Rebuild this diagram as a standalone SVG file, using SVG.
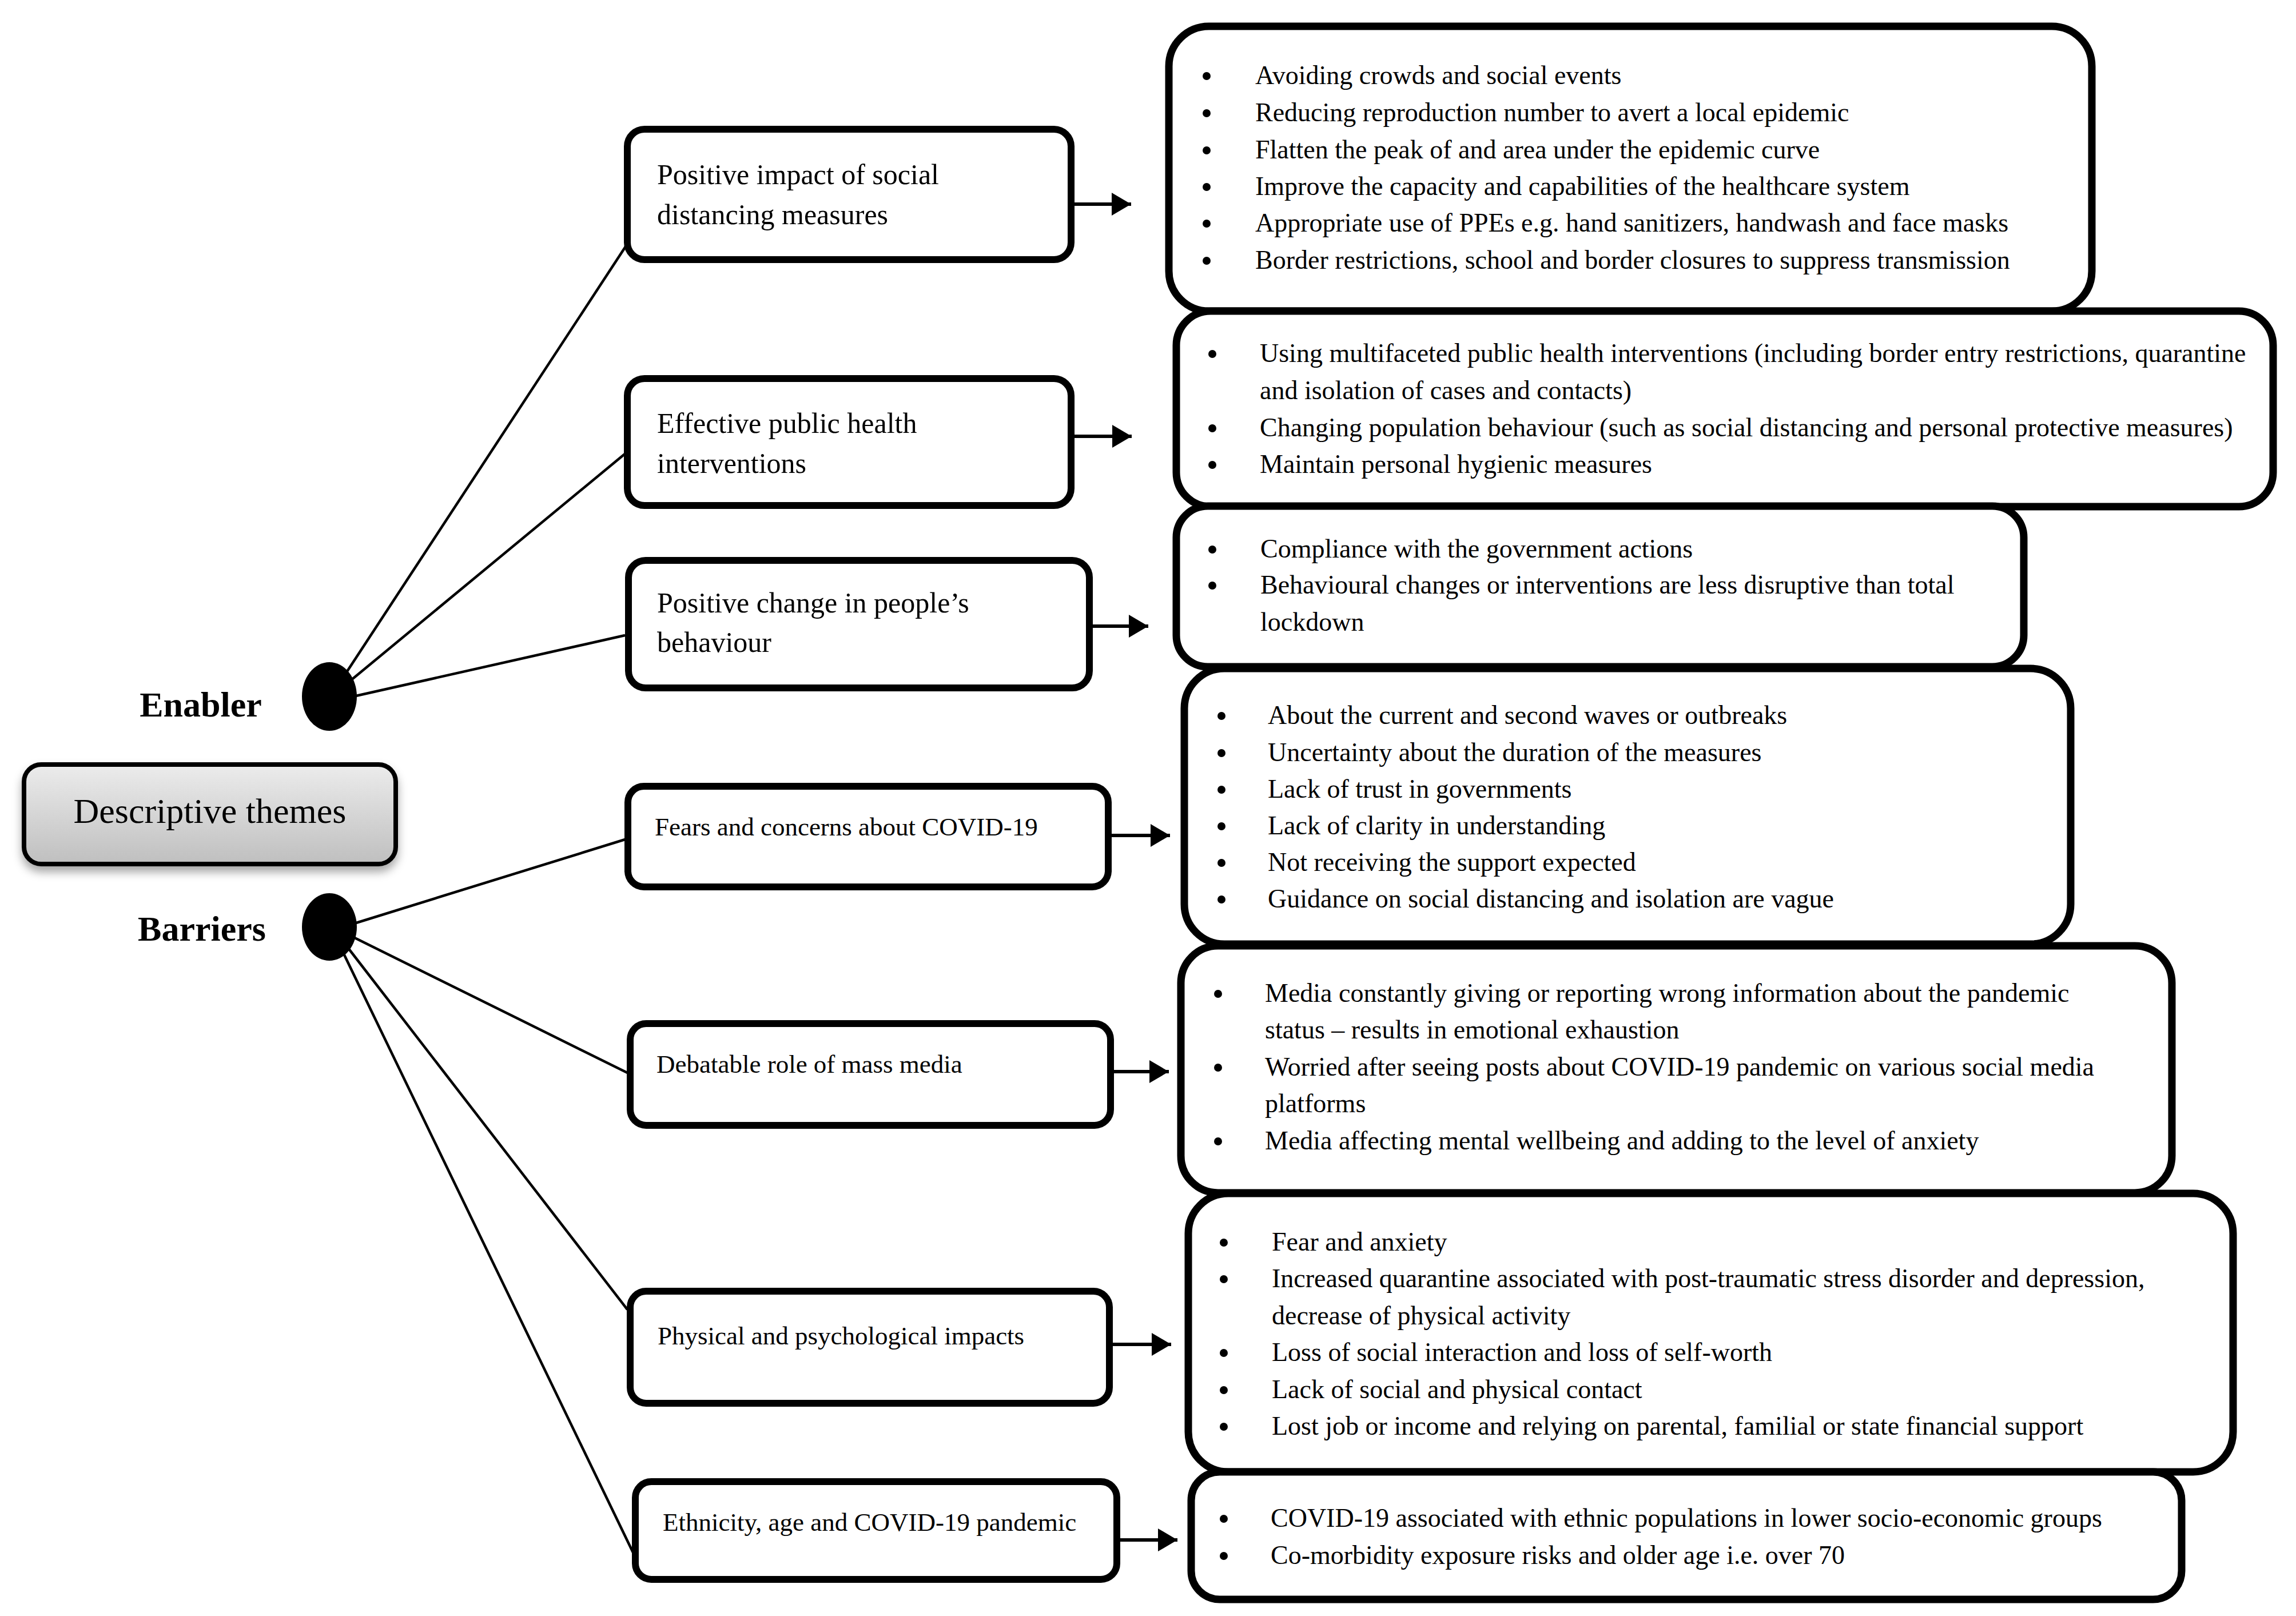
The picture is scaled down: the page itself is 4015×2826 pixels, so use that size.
<svg xmlns="http://www.w3.org/2000/svg" width="4015" height="2826" viewBox="0 0 4015 2826">
<defs>
<style>
.box{fill:#fff;stroke:#000;stroke-width:12}
.rbox{fill:#fff;stroke:#000;stroke-width:13}
.t{font-family:"Liberation Serif","Times New Roman",serif;fill:#000}
.lt{font-size:50px}
.bt{font-size:45px}
.rt{font-size:46px}
.hd{font-size:62px;font-weight:bold}
.conn{stroke:#000;stroke-width:4.5;fill:none}
.arr{stroke:#000;stroke-width:6;fill:none;marker-end:url(#ah)}
.bul{fill:#000}
.dot{fill:#000}
</style>
<marker id="ah" markerUnits="userSpaceOnUse" markerWidth="34" markerHeight="40" refX="34" refY="20" orient="auto">
<path d="M0,0 L34,20 L0,40 Z" fill="#000"/>
</marker>
<linearGradient id="g" x1="0" y1="0" x2="0" y2="1">
<stop offset="0" stop-color="#ececec"/>
<stop offset="1" stop-color="#bfbfbf"/>
</linearGradient>
<filter id="sh" x="-10%" y="-20%" width="120%" height="150%">
<feDropShadow dx="0" dy="10" stdDeviation="8" flood-color="#000" flood-opacity="0.35"/>
</filter>
</defs>
<rect width="4015" height="2826" fill="#fff"/>

<g id="connectors">
<line class="conn" x1="590" y1="1200" x2="1096" y2="428"/>
<line class="conn" x1="595" y1="1205" x2="1096" y2="791"/>
<line class="conn" x1="600" y1="1222" x2="1093" y2="1111"/>
<line class="conn" x1="600" y1="1621" x2="1093" y2="1468"/>
<line class="conn" x1="600" y1="1630" x2="1097" y2="1876"/>
<line class="conn" x1="595" y1="1640" x2="1097" y2="2290"/>
<line class="conn" x1="590" y1="1645" x2="1107" y2="2715"/>
<line class="arr" x1="1879" y1="357" x2="1978" y2="357"/>
<line class="arr" x1="1877" y1="763" x2="1979" y2="763"/>
<line class="arr" x1="1911" y1="1095" x2="2008" y2="1095"/>
<line class="arr" x1="1944" y1="1461" x2="2046" y2="1461"/>
<line class="arr" x1="1948" y1="1874" x2="2044" y2="1874"/>
<line class="arr" x1="1946" y1="2351" x2="2048" y2="2351"/>
<line class="arr" x1="1959" y1="2693" x2="2059" y2="2693"/>
</g>

<g id="descriptive-themes">
<rect x="42" y="1337" width="650" height="174" rx="30" fill="url(#g)" stroke="#000" stroke-width="8" filter="url(#sh)"/>
<text class="t" x="367" y="1439" font-size="62" text-anchor="middle">Descriptive themes</text>
</g>

<g id="enabler">
<ellipse class="dot" cx="576" cy="1218" rx="48" ry="60"/>
<text class="t hd" x="351" y="1253" text-anchor="middle">Enabler</text>
</g>

<g id="barriers">
<ellipse class="dot" cx="576" cy="1621" rx="48" ry="59"/>
<text class="t hd" x="353" y="1645" text-anchor="middle">Barriers</text>
</g>

<g id="theme-social-distancing">
<rect class="box" x="1097" y="226" width="776" height="228" rx="30"/>
<text class="t lt" x="1149" y="322">Positive impact of social</text>
<text class="t lt" x="1149" y="392">distancing measures</text>
</g>

<g id="theme-public-health">
<rect class="box" x="1097" y="662" width="776" height="222" rx="30"/>
<text class="t lt" x="1149" y="757">Effective public health</text>
<text class="t lt" x="1149" y="827">interventions</text>
</g>

<g id="theme-behaviour">
<rect class="box" x="1099" y="980" width="806" height="223" rx="30"/>
<text class="t lt" x="1149" y="1071">Positive change in people’s</text>
<text class="t lt" x="1149" y="1140">behaviour</text>
</g>

<g id="theme-fears">
<rect class="box" x="1098" y="1375" width="840" height="176" rx="28"/>
<text class="t bt" x="1145" y="1461">Fears and concerns about COVID-19</text>
</g>

<g id="theme-media">
<rect class="box" x="1102" y="1790" width="840" height="178" rx="28"/>
<text class="t bt" x="1148" y="1876">Debatable role of mass media</text>
</g>

<g id="theme-impacts">
<rect class="box" x="1102" y="2258" width="838" height="196" rx="28"/>
<text class="t bt" x="1150" y="2351">Physical and psychological impacts</text>
</g>

<g id="theme-ethnicity">
<rect class="box" x="1111" y="2591" width="842" height="171" rx="28"/>
<text class="t bt" x="1159" y="2677">Ethnicity, age and COVID-19 pandemic</text>
</g>

<g id="detail-social-distancing">
<rect class="rbox" x="2044" y="46" width="1614" height="498" rx="70"/>
<circle class="bul" cx="2110" cy="133" r="7"/>
<circle class="bul" cx="2110" cy="198" r="7"/>
<circle class="bul" cx="2110" cy="263" r="7"/>
<circle class="bul" cx="2110" cy="327" r="7"/>
<circle class="bul" cx="2110" cy="391" r="7"/>
<circle class="bul" cx="2110" cy="456" r="7"/>
<text class="t rt" x="2195" y="147">Avoiding crowds and social events</text>
<text class="t rt" x="2195" y="212">Reducing reproduction number to avert a local epidemic</text>
<text class="t rt" x="2195" y="277">Flatten the peak of and area under the epidemic curve</text>
<text class="t rt" x="2195" y="341">Improve the capacity and capabilities of the healthcare system</text>
<text class="t rt" x="2195" y="405">Appropriate use of PPEs e.g. hand sanitizers, handwash and face masks</text>
<text class="t rt" x="2195" y="470">Border restrictions, school and border closures to suppress transmission</text>
</g>

<g id="detail-public-health">
<rect class="rbox" x="2057" y="544" width="1918" height="342" rx="60"/>
<circle class="bul" cx="2120" cy="619" r="7"/>
<circle class="bul" cx="2120" cy="749" r="7"/>
<circle class="bul" cx="2120" cy="813" r="7"/>
<text class="t rt" x="2203" y="633">Using multifaceted public health interventions (including border entry restrictions, quarantine</text>
<text class="t rt" x="2203" y="698">and isolation of cases and contacts)</text>
<text class="t rt" x="2203" y="763">Changing population behaviour (such as social distancing and personal protective measures)</text>
<text class="t rt" x="2203" y="827">Maintain personal hygienic measures</text>
</g>

<g id="detail-behaviour">
<rect class="rbox" x="2057" y="885" width="1482" height="281" rx="55"/>
<circle class="bul" cx="2120" cy="961" r="7"/>
<circle class="bul" cx="2120" cy="1024" r="7"/>
<text class="t rt" x="2204" y="975">Compliance with the government actions</text>
<text class="t rt" x="2204" y="1038">Behavioural changes or interventions are less disruptive than total</text>
<text class="t rt" x="2204" y="1103">lockdown</text>
</g>

<g id="detail-fears">
<rect class="rbox" x="2071" y="1169" width="1550" height="482" rx="70"/>
<circle class="bul" cx="2136" cy="1252" r="7"/>
<circle class="bul" cx="2136" cy="1317" r="7"/>
<circle class="bul" cx="2136" cy="1381" r="7"/>
<circle class="bul" cx="2136" cy="1445" r="7"/>
<circle class="bul" cx="2136" cy="1509" r="7"/>
<circle class="bul" cx="2136" cy="1573" r="7"/>
<text class="t rt" x="2217" y="1266">About the current and second waves or outbreaks</text>
<text class="t rt" x="2217" y="1331">Uncertainty about the duration of the measures</text>
<text class="t rt" x="2217" y="1395">Lack of trust in governments</text>
<text class="t rt" x="2217" y="1459">Lack of clarity in understanding</text>
<text class="t rt" x="2217" y="1523">Not receiving the support expected</text>
<text class="t rt" x="2217" y="1587">Guidance on social distancing and isolation are vague</text>
</g>

<g id="detail-media">
<rect class="rbox" x="2065" y="1654" width="1733" height="432" rx="65"/>
<circle class="bul" cx="2130" cy="1738" r="7"/>
<circle class="bul" cx="2130" cy="1867" r="7"/>
<circle class="bul" cx="2130" cy="1996" r="7"/>
<text class="t rt" x="2212" y="1752">Media constantly giving or reporting wrong information about the pandemic</text>
<text class="t rt" x="2212" y="1816">status – results in emotional exhaustion</text>
<text class="t rt" x="2212" y="1881">Worried after seeing posts about COVID-19 pandemic on various social media</text>
<text class="t rt" x="2212" y="1945">platforms</text>
<text class="t rt" x="2212" y="2010">Media affecting mental wellbeing and adding to the level of anxiety</text>
</g>

<g id="detail-impacts">
<rect class="rbox" x="2078" y="2087" width="1827" height="487" rx="70"/>
<circle class="bul" cx="2140" cy="2173" r="7"/>
<circle class="bul" cx="2140" cy="2237" r="7"/>
<circle class="bul" cx="2140" cy="2366" r="7"/>
<circle class="bul" cx="2140" cy="2431" r="7"/>
<circle class="bul" cx="2140" cy="2495" r="7"/>
<text class="t rt" x="2224" y="2187">Fear and anxiety</text>
<text class="t rt" x="2224" y="2251">Increased quarantine associated with post-traumatic stress disorder and depression,</text>
<text class="t rt" x="2224" y="2316">decrease of physical activity</text>
<text class="t rt" x="2224" y="2380">Loss of social interaction and loss of self-worth</text>
<text class="t rt" x="2224" y="2445">Lack of social and physical contact</text>
<text class="t rt" x="2224" y="2509">Lost job or income and relying on parental, familial or state financial support</text>
</g>

<g id="detail-ethnicity">
<rect class="rbox" x="2083" y="2574" width="1732" height="223" rx="50"/>
<circle class="bul" cx="2140" cy="2656" r="7"/>
<circle class="bul" cx="2140" cy="2721" r="7"/>
<text class="t rt" x="2222" y="2670">COVID-19 associated with ethnic populations in lower socio-economic groups</text>
<text class="t rt" x="2222" y="2735">Co-morbidity exposure risks and older age i.e. over 70</text>
</g>
</svg>
